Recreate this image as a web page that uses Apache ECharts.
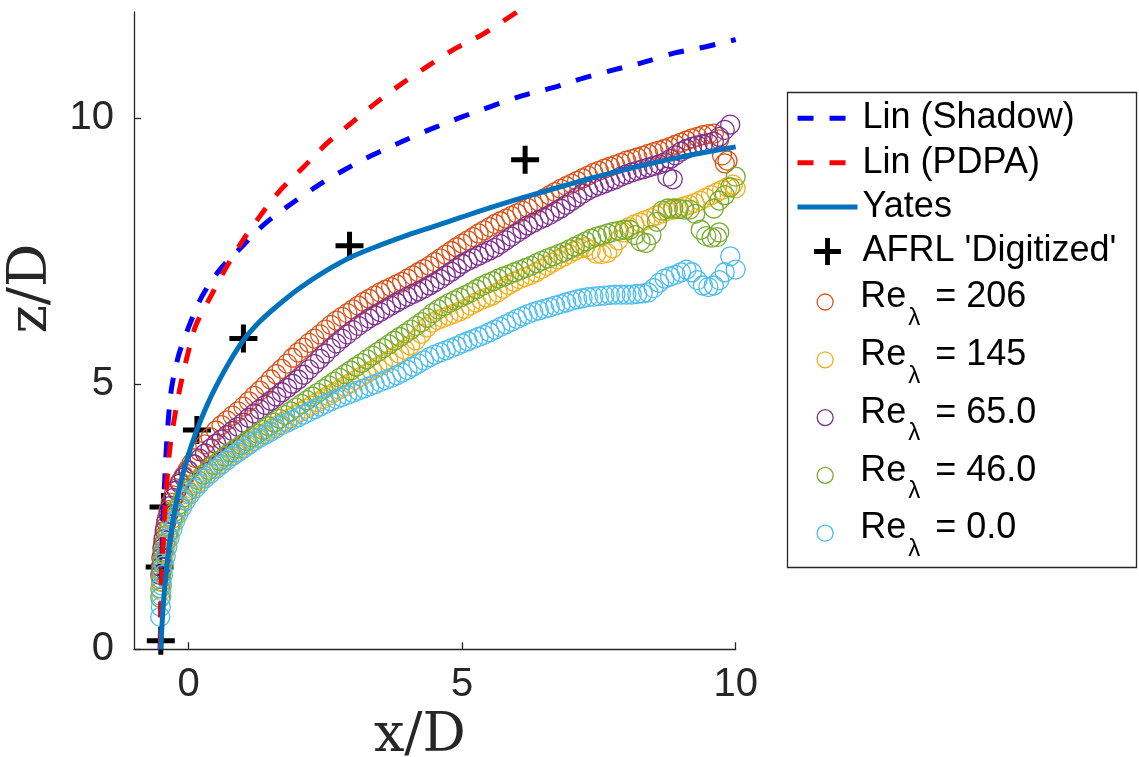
<!DOCTYPE html>
<html>
<head>
<meta charset="utf-8">
<script src="https://cdn.jsdelivr.net/npm/echarts@6/dist/echarts.min.js"></script>
<style>
html, body { margin: 0; padding: 0; background: #fff; }
#chart { width: 1139px; height: 757px; }
</style>
</head>
<body>
<div id="chart"></div>
<script>
// Jet trajectories, coordinates in (x/D, z/D)
const linShadow = [[-0.52,0],[-0.51,0.8],[-0.49,1.7],[-0.47,2.53],[-0.44,3.15],[-0.41,3.76],[-0.37,4.36],[-0.31,4.94],[-0.18,5.55],[0.0,6.07],[0.24,6.64],[0.57,7.15],[0.99,7.6],[1.39,8.01],[1.85,8.37],[2.36,8.73],[2.85,9.03],[3.37,9.31],[3.90,9.56],[4.39,9.78],[4.96,10.01],[5.52,10.22],[6.09,10.42],[6.64,10.57],[7.23,10.76],[7.77,10.91],[8.34,11.06],[8.89,11.23],[9.47,11.35],[10.0,11.48]];
const linPDPA = [[-0.52,0],[-0.51,0.78],[-0.48,1.7],[-0.44,2.57],[-0.40,3.15],[-0.35,3.73],[-0.27,4.3],[-0.16,4.92],[-0.02,5.55],[0.13,6.1],[0.40,6.64],[0.68,7.18],[0.99,7.7],[1.32,8.18],[1.68,8.65],[2.10,9.08],[2.52,9.52],[2.95,9.89],[3.40,10.27],[3.88,10.64],[4.37,10.98],[4.87,11.31],[5.36,11.57],[5.87,11.91],[6.0,12.0]];
const yates = [[-0.51,0],[-0.48,0.6],[-0.44,1.15],[-0.38,1.75],[-0.3,2.35],[-0.2,2.9],[-0.1,3.33],[0.0,3.68],[0.15,4.13],[0.32,4.56],[0.5,4.95],[0.75,5.42],[1.0,5.82],[1.3,6.17],[1.6,6.45],[2.0,6.78],[2.5,7.12],[3.0,7.4],[3.5,7.61],[4.0,7.8],[4.5,7.97],[5.0,8.14],[5.5,8.31],[6.0,8.47],[6.5,8.62],[7.0,8.77],[7.5,8.91],[8.0,9.04],[8.5,9.16],[9.0,9.27],[9.5,9.37],[10.0,9.46]];
const afrl = [[-0.51,0.16],[-0.53,1.55],[-0.46,2.68],[0.15,4.13],[1.0,5.85],[2.94,7.6],[6.15,9.22]];

const re206 = [[-0.5,1.27],[-0.5,1.45],[-0.49,1.62],[-0.48,1.8],[-0.47,1.97],[-0.45,2.13],[-0.43,2.3],[-0.4,2.46],[-0.37,2.62],[-0.33,2.76],[-0.28,2.9],[-0.22,3.03],[-0.16,3.15],[-0.09,3.27],[-0.02,3.38],[0.05,3.5],[0.12,3.6],[0.2,3.73],[0.3,3.86],[0.4,3.99],[0.5,4.12],[0.6,4.22],[0.7,4.31],[0.8,4.4],[0.9,4.48],[1.0,4.57],[1.1,4.67],[1.2,4.77],[1.3,4.87],[1.4,4.97],[1.5,5.08],[1.6,5.18],[1.7,5.28],[1.8,5.38],[1.9,5.49],[2.0,5.59],[2.1,5.68],[2.2,5.77],[2.3,5.85],[2.4,5.93],[2.5,6.02],[2.6,6.11],[2.7,6.19],[2.8,6.26],[2.9,6.33],[3.0,6.4],[3.1,6.47],[3.2,6.54],[3.3,6.6],[3.4,6.66],[3.5,6.72],[3.6,6.77],[3.7,6.82],[3.8,6.87],[3.9,6.92],[4.0,6.98],[4.1,7.04],[4.2,7.1],[4.3,7.16],[4.4,7.22],[4.5,7.29],[4.6,7.36],[4.7,7.43],[4.8,7.5],[4.9,7.57],[5.0,7.64],[5.1,7.7],[5.2,7.76],[5.3,7.83],[5.4,7.89],[5.5,7.95],[5.6,8.01],[5.7,8.06],[5.8,8.11],[5.9,8.16],[6.0,8.21],[6.1,8.26],[6.2,8.31],[6.3,8.37],[6.4,8.43],[6.5,8.49],[6.6,8.55],[6.7,8.61],[6.8,8.67],[6.9,8.72],[7.0,8.77],[7.1,8.82],[7.2,8.87],[7.3,8.92],[7.4,8.97],[7.5,9.01],[7.6,9.05],[7.7,9.09],[7.8,9.12],[7.9,9.16],[8.0,9.2],[8.1,9.23],[8.2,9.26],[8.3,9.29],[8.4,9.33],[8.5,9.36],[8.6,9.39],[8.7,9.42],[8.8,9.46],[8.9,9.5],[9.0,9.54],[9.1,9.58],[9.2,9.62],[9.3,9.65],[9.4,9.68],[9.5,9.7],[9.6,9.71],[9.7,9.6],[9.75,9.3],[9.8,9.15],[9.85,9.2]];
const re145 = [[-0.5,1.1],[-0.5,1.28],[-0.49,1.46],[-0.47,1.63],[-0.45,1.8],[-0.42,1.96],[-0.38,2.12],[-0.34,2.27],[-0.29,2.41],[-0.23,2.55],[-0.17,2.68],[-0.1,2.8],[-0.02,2.92],[0.06,3.02],[0.15,3.12],[0.25,3.22],[0.35,3.31],[0.45,3.4],[0.55,3.48],[0.65,3.56],[0.75,3.63],[0.85,3.7],[0.95,3.77],[1.05,3.84],[1.15,3.91],[1.25,3.98],[1.35,4.05],[1.45,4.11],[1.55,4.17],[1.65,4.23],[1.75,4.29],[1.85,4.35],[1.95,4.41],[2.05,4.47],[2.15,4.53],[2.25,4.59],[2.35,4.65],[2.45,4.71],[2.55,4.77],[2.65,4.83],[2.75,4.89],[2.85,4.95],[2.95,5.01],[3.05,5.07],[3.15,5.13],[3.25,5.19],[3.35,5.25],[3.45,5.31],[3.55,5.37],[3.65,5.43],[3.75,5.5],[3.85,5.57],[3.95,5.64],[4.05,5.72],[4.15,5.82],[4.25,5.94],[4.35,6.06],[4.45,6.15],[4.55,6.2],[4.65,6.24],[4.75,6.28],[4.85,6.32],[4.95,6.36],[5.05,6.41],[5.15,6.47],[5.25,6.53],[5.35,6.58],[5.45,6.62],[5.55,6.66],[5.65,6.72],[5.75,6.79],[5.85,6.86],[5.95,6.92],[6.05,6.97],[6.15,7.01],[6.25,7.05],[6.35,7.1],[6.45,7.16],[6.55,7.22],[6.65,7.28],[6.75,7.34],[6.85,7.39],[6.95,7.44],[7.05,7.5],[7.15,7.55],[7.25,7.57],[7.35,7.52],[7.45,7.45],[7.55,7.44],[7.65,7.46],[7.75,7.55],[7.85,7.7],[7.95,7.85],[8.05,7.95],[8.15,8.0],[8.25,8.04],[8.35,8.08],[8.45,8.12],[8.55,8.17],[8.65,8.21],[8.75,8.25],[8.85,8.28],[8.95,8.31],[9.05,8.34],[9.15,8.37],[9.25,8.4],[9.35,8.45],[9.45,8.5],[9.55,8.55],[9.65,8.6],[9.75,8.65],[9.85,8.7],[9.95,8.75],[10.0,8.68]];
const re65 = [[-0.52,1.4],[-0.51,1.55],[-0.5,1.72],[-0.48,1.9],[-0.46,2.07],[-0.44,2.23],[-0.41,2.39],[-0.37,2.55],[-0.33,2.7],[-0.28,2.85],[-0.22,2.99],[-0.16,3.12],[-0.09,3.24],[0.0,3.36],[0.1,3.48],[0.2,3.59],[0.3,3.69],[0.4,3.78],[0.5,3.87],[0.6,3.95],[0.7,4.03],[0.8,4.11],[0.9,4.19],[1.0,4.27],[1.1,4.36],[1.2,4.44],[1.3,4.52],[1.4,4.6],[1.5,4.68],[1.6,4.76],[1.7,4.84],[1.8,4.92],[1.9,5.0],[2.0,5.08],[2.1,5.17],[2.2,5.27],[2.3,5.37],[2.4,5.47],[2.5,5.57],[2.6,5.67],[2.7,5.76],[2.8,5.85],[2.9,5.93],[3.0,6.01],[3.1,6.09],[3.2,6.16],[3.3,6.23],[3.4,6.29],[3.5,6.35],[3.6,6.41],[3.7,6.47],[3.8,6.53],[3.9,6.59],[4.0,6.64],[4.1,6.69],[4.2,6.74],[4.3,6.79],[4.4,6.85],[4.5,6.91],[4.6,6.97],[4.7,7.04],[4.8,7.11],[4.9,7.18],[5.0,7.26],[5.1,7.31],[5.2,7.36],[5.3,7.41],[5.4,7.46],[5.5,7.51],[5.6,7.56],[5.7,7.63],[5.8,7.7],[5.9,7.77],[6.0,7.84],[6.1,7.91],[6.2,7.98],[6.3,8.03],[6.4,8.08],[6.5,8.13],[6.6,8.18],[6.7,8.24],[6.8,8.3],[6.9,8.37],[7.0,8.44],[7.1,8.51],[7.2,8.58],[7.3,8.64],[7.4,8.69],[7.5,8.73],[7.6,8.77],[7.7,8.81],[7.8,8.85],[7.9,8.9],[8.0,8.94],[8.1,8.98],[8.2,9.01],[8.3,9.04],[8.4,9.07],[8.5,9.1],[8.6,9.13],[8.7,9.17],[8.75,8.9],[8.85,8.85],[8.8,9.23],[8.9,9.3],[9.0,9.37],[9.1,9.42],[9.2,9.46],[9.3,9.49],[9.4,9.51],[9.5,9.53],[9.6,9.56],[9.7,9.65],[9.8,9.78],[9.9,9.88]];
const re46 = [[-0.52,0.97],[-0.52,1.15],[-0.51,1.33],[-0.5,1.5],[-0.48,1.67],[-0.46,1.84],[-0.43,2.0],[-0.39,2.16],[-0.35,2.31],[-0.3,2.46],[-0.24,2.6],[-0.17,2.73],[-0.1,2.86],[-0.02,2.98],[0.07,3.09],[0.16,3.19],[0.26,3.29],[0.36,3.38],[0.46,3.47],[0.56,3.55],[0.66,3.63],[0.76,3.71],[0.86,3.78],[0.96,3.85],[1.06,3.92],[1.16,3.99],[1.26,4.06],[1.36,4.13],[1.46,4.2],[1.56,4.27],[1.66,4.34],[1.76,4.41],[1.86,4.48],[1.96,4.55],[2.06,4.62],[2.16,4.69],[2.26,4.76],[2.36,4.83],[2.46,4.9],[2.56,4.97],[2.66,5.04],[2.76,5.11],[2.86,5.18],[2.96,5.25],[3.06,5.32],[3.16,5.39],[3.26,5.46],[3.36,5.53],[3.46,5.6],[3.56,5.67],[3.66,5.74],[3.76,5.81],[3.86,5.88],[3.96,5.95],[4.06,6.02],[4.16,6.09],[4.26,6.16],[4.36,6.24],[4.46,6.33],[4.56,6.4],[4.66,6.46],[4.76,6.52],[4.86,6.57],[4.96,6.62],[5.06,6.67],[5.16,6.72],[5.26,6.78],[5.36,6.84],[5.46,6.89],[5.56,6.93],[5.66,6.98],[5.76,7.02],[5.86,7.06],[5.96,7.1],[6.06,7.14],[6.16,7.18],[6.26,7.22],[6.36,7.27],[6.46,7.32],[6.56,7.36],[6.66,7.4],[6.76,7.44],[6.86,7.48],[6.96,7.53],[7.06,7.58],[7.16,7.63],[7.26,7.68],[7.36,7.73],[7.46,7.77],[7.56,7.8],[7.66,7.83],[7.76,7.86],[7.86,7.88],[7.96,7.9],[8.06,7.9],[8.16,7.8],[8.26,7.68],[8.36,7.65],[8.46,7.8],[8.56,8.05],[8.66,8.26],[8.76,8.3],[8.86,8.3],[8.96,8.29],[9.06,8.28],[9.16,8.28],[9.26,8.2],[9.36,7.9],[9.46,7.78],[9.56,7.75],[9.66,7.76],[9.7,7.85],[9.6,8.3],[9.7,8.45],[9.8,8.55],[9.9,8.7],[10.0,8.9]];
const re0 = [[-0.52,0.61],[-0.51,0.8],[-0.5,1.0],[-0.49,1.2],[-0.47,1.4],[-0.45,1.58],[-0.42,1.76],[-0.39,1.93],[-0.35,2.1],[-0.3,2.26],[-0.25,2.41],[-0.19,2.55],[-0.12,2.68],[-0.05,2.8],[0.03,2.92],[0.12,3.03],[0.2,3.12],[0.3,3.22],[0.4,3.31],[0.5,3.4],[0.6,3.48],[0.7,3.56],[0.8,3.64],[0.9,3.71],[1.0,3.78],[1.1,3.85],[1.2,3.92],[1.3,3.98],[1.4,4.04],[1.5,4.1],[1.6,4.16],[1.7,4.22],[1.8,4.27],[1.9,4.32],[2.0,4.37],[2.1,4.42],[2.2,4.47],[2.3,4.52],[2.4,4.57],[2.5,4.62],[2.6,4.67],[2.7,4.71],[2.8,4.75],[2.9,4.79],[3.0,4.83],[3.1,4.87],[3.2,4.91],[3.3,4.95],[3.4,4.99],[3.5,5.03],[3.6,5.07],[3.7,5.11],[3.8,5.16],[3.9,5.21],[4.0,5.26],[4.1,5.32],[4.2,5.38],[4.3,5.44],[4.4,5.5],[4.5,5.55],[4.6,5.59],[4.7,5.63],[4.8,5.67],[4.9,5.71],[5.0,5.76],[5.1,5.8],[5.2,5.84],[5.3,5.88],[5.4,5.92],[5.5,5.97],[5.6,6.02],[5.7,6.07],[5.8,6.12],[5.9,6.17],[6.0,6.22],[6.1,6.27],[6.2,6.31],[6.3,6.35],[6.4,6.38],[6.5,6.41],[6.6,6.44],[6.7,6.47],[6.8,6.5],[6.9,6.53],[7.0,6.56],[7.1,6.59],[7.2,6.61],[7.3,6.63],[7.4,6.64],[7.5,6.65],[7.6,6.66],[7.7,6.67],[7.8,6.68],[7.9,6.68],[8.0,6.68],[8.1,6.68],[8.2,6.69],[8.3,6.7],[8.4,6.72],[8.5,6.8],[8.6,6.9],[8.7,6.98],[8.8,7.02],[8.9,7.05],[9.0,7.1],[9.1,7.15],[9.2,7.1],[9.3,6.95],[9.4,6.85],[9.5,6.82],[9.6,6.85],[9.7,6.95],[9.8,7.1],[9.9,7.4],[10.0,7.15]];

const xTicks = [0, 5, 10];
const yTicks = [0, 5, 10];

const axisColor = '#262626';
const sansFont = 'Liberation Sans, Arial, Helvetica, sans-serif';
const serifFont = 'DejaVu Serif, Liberation Serif, serif';
const crossPath = 'path://M0,11.5H28V16.5H0Z M11.5,0H16.5V28H11.5Z';

function circleSeries(name, data, color) {
  return {
    name: name,
    type: 'scatter',
    data: data,
    symbol: 'circle',
    symbolSize: 19,
    itemStyle: { color: 'rgba(0,0,0,0)', borderColor: color, borderWidth: 1.3, opacity: 1 },
    emphasis: { disabled: true }
  };
}

// line entries show only their stroke in the legend
function lineLegendItem(name) {
  return { name: name, itemStyle: { opacity: 0 } };
}

const chart = echarts.init(document.getElementById('chart'), null, { renderer: 'canvas' });

chart.setOption({
  animation: false,
  backgroundColor: '#ffffff',
  grid: { left: 134, top: 12, right: 403.3, bottom: 107.7, containLabel: false, outerBoundsMode: 'none' },
  xAxis: {
    type: 'value', min: -1, max: 10,
    name: 'x/D', nameLocation: 'middle', nameGap: 59,
    nameTextStyle: { fontFamily: serifFont, fontSize: 54, color: axisColor, padding: [0, 30, 0, 0] },
    axisLine: { show: true, onZero: false, lineStyle: { color: axisColor, width: 1.3 } },
    axisTick: { show: true, inside: true, length: 7, customValues: xTicks, lineStyle: { color: axisColor, width: 1.3 } },
    axisLabel: { customValues: xTicks, margin: 16, fontFamily: sansFont, fontSize: 40, color: axisColor },
    splitLine: { show: false }
  },
  yAxis: {
    type: 'value', min: 0, max: 12,
    name: 'z/D', nameLocation: 'middle', nameGap: 69,
    nameTextStyle: { fontFamily: serifFont, fontSize: 54, color: axisColor, padding: [0, 0, 0, 84] },
    axisLine: { show: true, onZero: false, lineStyle: { color: axisColor, width: 1.3 } },
    axisTick: { show: true, inside: true, length: 7, customValues: yTicks, lineStyle: { color: axisColor, width: 1.3 } },
    axisLabel: { customValues: yTicks, margin: 20, fontFamily: sansFont, fontSize: 40, color: axisColor },
    splitLine: { show: false }
  },
  legend: [
    {
      data: [lineLegendItem('Lin (Shadow)'), lineLegendItem('Lin (PDPA)'), lineLegendItem('Yates'), "AFRL 'Digitized'"],
      orient: 'vertical', left: 795, top: 96.3, padding: 0,
      itemWidth: 60, itemHeight: 27, itemGap: 0.4,
      selectedMode: false,
      lineStyle: { width: 5 },
      itemStyle: { borderWidth: 0 },
      textStyle: { fontFamily: sansFont, fontSize: 36, color: '#000', lineHeight: 44 }
    },
    {
      data: ['Re_λ = 206', 'Re_λ = 145', 'Re_λ = 65.0', 'Re_λ = 46.0', 'Re_λ = 0.0'],
      orient: 'vertical', left: 816.5, top: 273.8, padding: 0,
      itemWidth: 60, itemHeight: 16, itemGap: 1.4,
      selectedMode: false,
      itemStyle: { borderWidth: 1.3 },
      formatter: function (name) {
        return '{n|Re}{s|λ}{n|' + name.replace('Re_λ', '') + '}';
      },
      textStyle: {
        fontFamily: sansFont, fontSize: 36, color: '#000',
        rich: {
          n: { fontFamily: sansFont, fontSize: 36, color: '#000', lineHeight: 46, verticalAlign: 'top', padding: [5.4, 0, 0, 0] },
          s: { fontFamily: sansFont, fontSize: 24, color: '#000', padding: [32.4, 5, 0, 2], verticalAlign: 'top' }
        }
      }
    }
  ],
  graphic: [
    {
      type: 'rect', silent: true,
      shape: { x: 787.5, y: 92.5, width: 349, height: 475 },
      style: { fill: 'none', stroke: axisColor, lineWidth: 1.3 }
    }
  ],
  series: [
    {
      name: 'Lin (Shadow)', type: 'line', data: linShadow, smooth: 0.3,
      symbol: 'none', clip: true,
      lineStyle: { color: '#0000FF', width: 5, type: [16, 16], cap: 'butt' },
      itemStyle: { color: '#0000FF' }
    },
    {
      name: 'Lin (PDPA)', type: 'line', data: linPDPA, smooth: 0.3,
      symbol: 'none', clip: true,
      lineStyle: { color: '#FF0000', width: 5, type: [16, 16], cap: 'butt' },
      itemStyle: { color: '#FF0000' }
    },
    {
      name: 'Yates', type: 'line', data: yates, smooth: 0.3,
      symbol: 'none', clip: true,
      lineStyle: { color: '#0072BD', width: 5 },
      itemStyle: { color: '#0072BD' }
    },
    {
      name: "AFRL 'Digitized'", type: 'scatter', data: afrl,
      symbol: crossPath, symbolSize: 28,
      itemStyle: { color: '#000000', opacity: 1 },
      emphasis: { disabled: true }
    },
    circleSeries('Re_λ = 206', re206, '#D95319'),
    circleSeries('Re_λ = 145', re145, '#EDB120'),
    circleSeries('Re_λ = 65.0', re65, '#7E2F8E'),
    circleSeries('Re_λ = 46.0', re46, '#77AC30'),
    circleSeries('Re_λ = 0.0', re0, '#4DBEEE')
  ]
});
</script>
</body>
</html>
